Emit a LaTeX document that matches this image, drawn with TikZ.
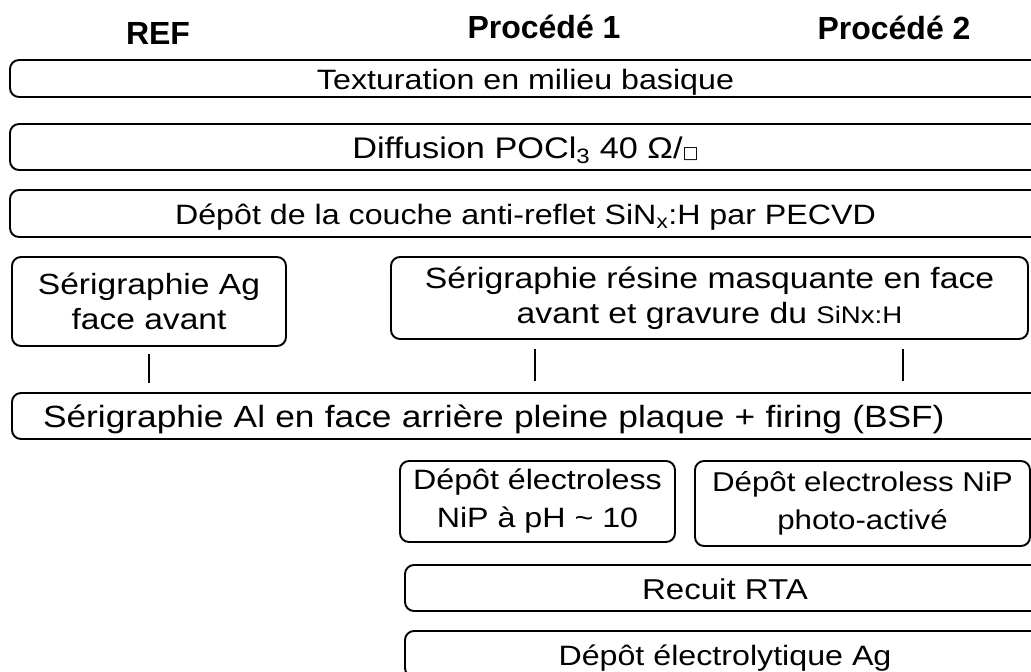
\documentclass[tikz,border=0pt]{standalone}
\usepackage{fontspec}
\setmainfont[FakeStretch=1.15]{Liberation Sans}
\newfontfamily\headfont{Liberation Sans}
\newfontfamily\symbfont{DejaVu Sans}

\begin{document}
\begin{tikzpicture}[x=1pt, y=-1pt, line width=1.9pt,
  etape/.style={draw, rounded corners=9pt, align=center, inner sep=0pt,
    font=\fontsize{28}{35}\selectfont},
  taille/.style={font=\fontsize{#1}{35}\selectfont},
  ligne/.style={text height=22pt, text depth=0pt},
  titre/.style={anchor=base, font=\headfont\bfseries\fontsize{32}{36}\selectfont}]
  \useasboundingbox (0,0) rectangle (1031,672);
  \clip (0,0) rectangle (1031,672);
  % titres des colonnes
  \node[titre] (ref) at (158,44) {REF};
  \node[titre] (proc1) at (544,38) {Procédé 1};
  \node[titre] (proc2) at (894,39) {Procédé 2};
  % etapes communes
  \node[etape, ligne, minimum width=1031pt, minimum height=37pt] (textu) at (525.5,78.5) {Texturation en milieu basique};
  \node[etape, ligne, taille=29.8, minimum width=1031pt, minimum height=46pt] (diff) at (525.5,147) {Diffusion POCl\textsubscript{3} 40 Ω/{\symbfont\fontsize{17}{17}\selectfont □}};
  \node[etape, ligne, minimum width=1031pt, minimum height=47pt] (couche) at (525.5,213.5) {Dépôt de la couche anti-reflet SiN\textsubscript{x}:H par PECVD};
  % face avant
  \node[etape, taille=29.2, minimum width=274pt, minimum height=89pt] (serAg) at (149,301.5) {Sérigraphie Ag\\face avant};
  \node[etape, taille=29.3, minimum width=637pt, minimum height=82pt] (masque) at (709.5,298) {Sérigraphie résine masquante en face\\avant et gravure du {\fontsize{24}{28}\selectfont SiNx:H}};
  % face arriere
  \node[etape, ligne, taille=30.7, align=left, text width=967pt, inner xsep=31pt, minimum height=46pt] (serAl) at (526.5,416) {Sérigraphie Al en face arrière pleine plaque + firing (BSF)};
  \draw ([yshift=-7pt]serAg.south) -- ([yshift=9pt]serAg.south |- serAl.north);
  \coordinate (m1) at ([xshift=145pt]masque.south west);
  \coordinate (m2) at ([xshift=-126pt]masque.south east);
  \draw ([yshift=-9pt]m1) -- ([yshift=11pt]m1 |- serAl.north);
  \draw ([yshift=-9pt]m2) -- ([yshift=11pt]m2 |- serAl.north);
  % metallisation
  \node[etape, font=\fontsize{28}{38}\selectfont, minimum width=275pt, minimum height=81pt] (nip1) at (537.5,501.5) {Dépôt électroless\\NiP à pH \textasciitilde{} 10};
  \node[etape, font=\fontsize{27.2}{38}\selectfont, minimum width=335pt, minimum height=85pt] (nip2) at (862.5,503.5) {Dépôt electroless NiP\\photo-activé};
  \node[etape, ligne, taille=28.7, minimum width=640pt, minimum height=46pt] (recuit) at (725,588) {Recuit RTA};
  \node[etape, ligne, minimum width=640pt, minimum height=46pt] (electro) at (725,654) {Dépôt électrolytique Ag};
\end{tikzpicture}
\end{document}
